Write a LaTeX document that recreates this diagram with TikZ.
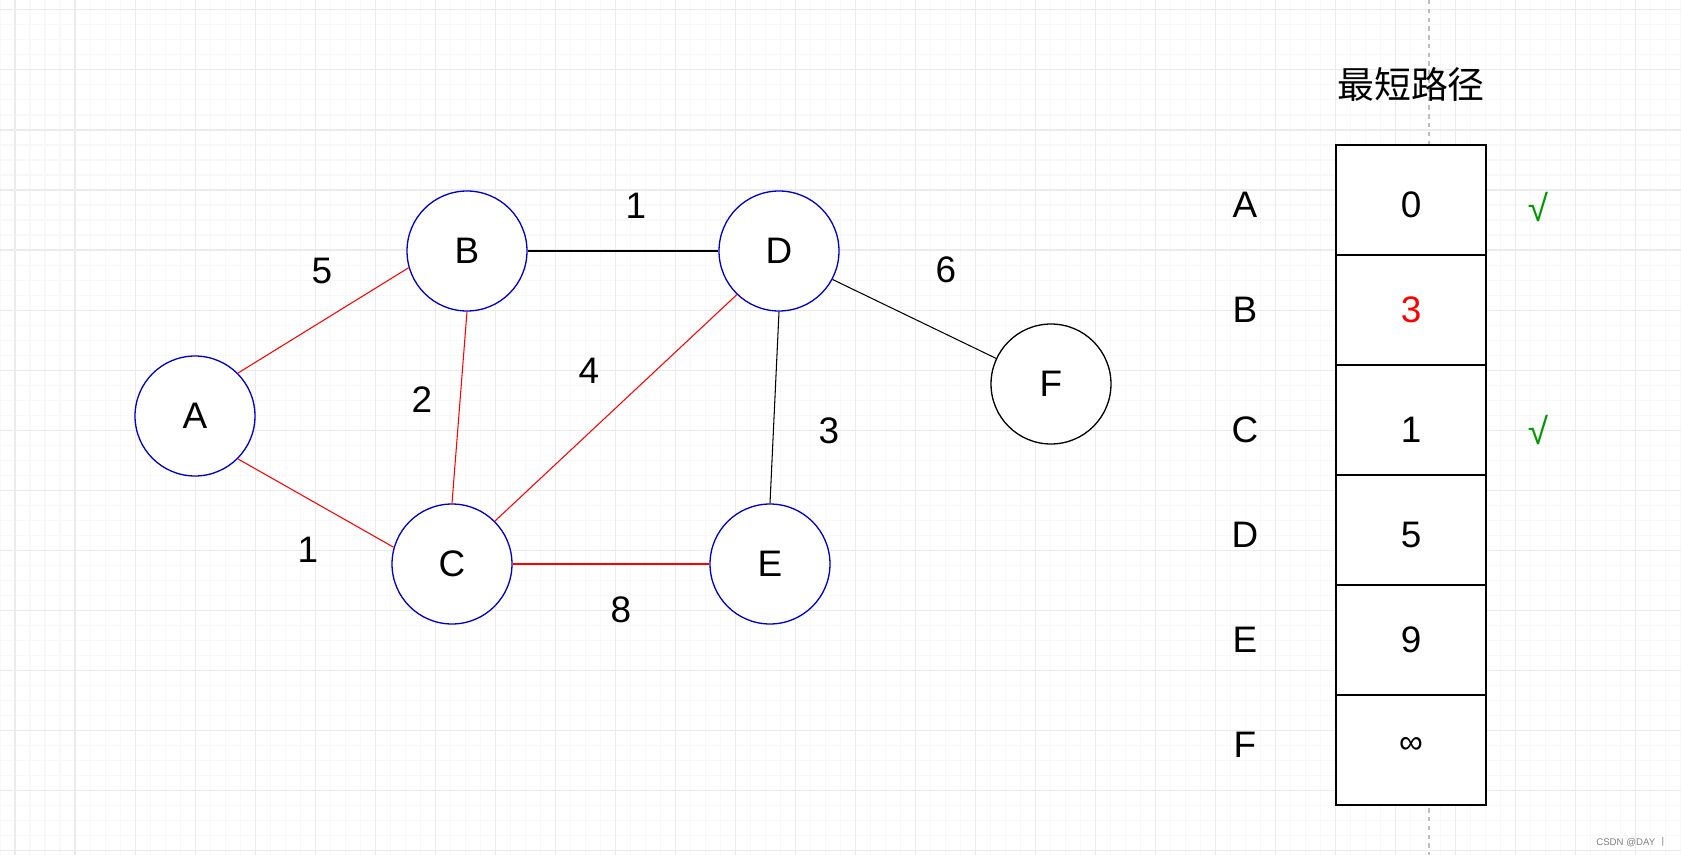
\documentclass[tikz,border=0pt]{standalone}
\usepackage{fontspec}
\setmainfont{Liberation Sans}
\newfontfamily\cjk{Noto Sans CJK SC}
\definecolor{nodeblue}{RGB}{0,0,204}
\definecolor{okgreen}{RGB}{0,153,0}
\definecolor{gridminor}{RGB}{248,248,248}
\definecolor{gridmajor}{RGB}{235,235,235}
\definecolor{dashgray}{RGB}{190,190,190}

\begin{document}
\begin{tikzpicture}[x=0.02cm, y=-0.02cm,
    vertex/.style={circle, draw=nodeblue, line width=0.75pt, fill=white, minimum size=2.4cm, inner sep=0pt, font=\fontsize{21}{21}\selectfont},
    weight/.style={font=\fontsize{21}{21}\selectfont},
    cell/.style={rectangle, draw, line width=0.85pt, fill=white, minimum width=3cm, minimum height=2.2cm},
    redge/.style={red, line width=0.6pt},
    bedge/.style={black, line width=0.6pt}]
    \useasboundingbox (0,0) rectangle (1681,855);
    \fill[white] (0,0) rectangle (1681,855);
    % background grid
    \foreach \x in {0,15,...,1680} \draw[gridminor, line width=0.57pt] (\x,0) -- (\x,855);
    \foreach \y in {10,25,...,850} \draw[gridminor, line width=0.57pt] (0,\y) -- (1681,\y);
    \foreach \x in {15,75,...,1675} \draw[gridmajor, line width=0.57pt] (\x,0) -- (\x,855);
    \foreach \y in {10,70,...,850} \draw[gridmajor, line width=0.57pt] (0,\y) -- (1681,\y);
    \coordinate (dtop) at (1429,0);
    \coordinate (dbot) at (1429,855);
    \draw[dashgray, line width=0.6pt, dash pattern=on 2.5pt off 2.5pt] (dtop) -- (dbot);

    % the graph
    \node[vertex] (A) at (195,416) {A};
    \node[vertex] (B) at (467,251) {B};
    \node[vertex] (C) at (452,564) {C};
    \node[vertex] (D) at (779,251) {D};
    \node[vertex] (E) at (770,564) {E};
    \node[vertex, draw=black] (F) at (1051,384) {F};
    \draw[redge] (A.45) -- (B.196);
    \draw[redge] (A.-45) -- (C.164);
    \draw[redge] (B.south) -- (C.north);
    \draw[redge] (C.45) -- (D.226);
    \draw[redge] (C.east) -- (E.west);
    \draw[bedge] (B.east) -- (D.west);
    \draw[bedge] (D.south) -- (E.north);
    \draw[bedge] (D.-28) -- (F.155);
    \node[weight] (wAB) at (322,271) {5};
    \node[weight] (wBD) at (636,206) {1};
    \node[weight] (wDF) at (946,270) {6};
    \node[weight] (wBC) at (422,400) {2};
    \node[weight] (wCD) at (589,371) {4};
    \node[weight] (wDE) at (829,431) {3};
    \node[weight] (wAC) at (308,550) {1};
    \node[weight] (wCE) at (621,610) {8};

    % table of distances
    \node[font=\fontsize{21}{21}\selectfont] (title) at (1411,84) {\cjk 最短路径};
    \foreach \name/\ty/\val/\col [count=\i from 0] in {A/205/0/black, B/310/3/red, C/430/1/black, D/535/5/black, E/640/9/black, F/745/{\fontsize{19}{19}\selectfont ∞}/black}{
        \node[cell] (c\name) at (1411,{200+110*\i}) {}; % one row
        \node[weight, text=\col] (v\name) at (1411,\ty) {\val};
        \node[weight] (l\name) at (1245,\ty) {\name};
    }
    \node[weight, text=okgreen] (tA) at (1538,207) {√};
    \node[weight, text=okgreen] (tC) at (1538,430) {√};

    \node[text=gray, font=\fontsize{5.5}{5.5}\selectfont] (mark) at (1632,842) {CSDN @DAY {\cjk 丨}};
\end{tikzpicture}
\end{document}
